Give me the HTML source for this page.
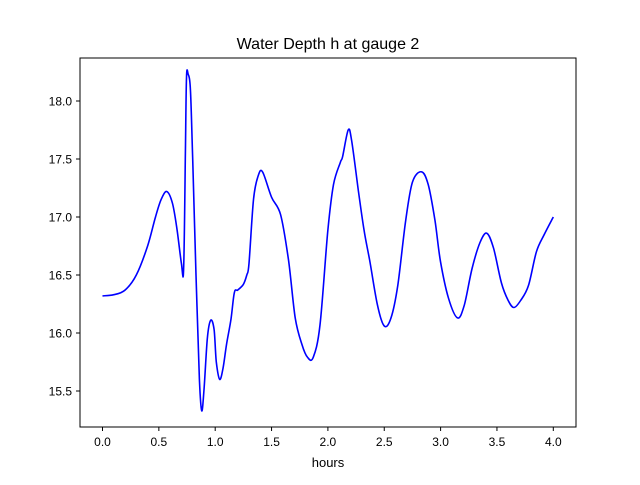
<!DOCTYPE html>
<html><head><meta charset="utf-8"><style>
body{margin:0;background:#fff;font-family:"Liberation Sans",sans-serif;}
</style></head><body>
<svg width="640" height="480" xmlns="http://www.w3.org/2000/svg">
<rect width="640" height="480" fill="#fff"/>
<text x="328" y="49" font-size="16" text-anchor="middle">Water Depth h at gauge 2</text>
<g id="ticks"></g>
<path id="line" fill="none" stroke="#0000ff" stroke-width="1.6" stroke-linejoin="round"/>
<rect x="80" y="58" width="496" height="369" fill="none" stroke="#000" stroke-width="1"/>
<text x="328" y="467" font-size="13" text-anchor="middle">hours</text>
</svg>
<script>
const hours=[0,0.1,0.2,0.3,0.4,0.47,0.52,0.57,0.62,0.66,0.7,0.72,0.735,0.745,0.76,0.78,0.8,0.83,0.86,0.88,0.9,0.93,0.96,0.99,1.01,1.04,1.07,1.1,1.14,1.17,1.2,1.25,1.28,1.30,1.34,1.38,1.42,1.50,1.58,1.65,1.71,1.77,1.82,1.87,1.93,2.0,2.05,2.11,2.13,2.18,2.21,2.27,2.32,2.37,2.44,2.50,2.56,2.62,2.69,2.75,2.83,2.89,2.95,3.0,3.07,3.15,3.21,3.28,3.35,3.41,3.47,3.54,3.6,3.65,3.71,3.78,3.85,3.92,4.0];
const depth=[16.32,16.33,16.37,16.5,16.75,17.0,17.15,17.22,17.12,16.9,16.6,16.55,17.5,18.2,18.23,18.1,17.5,16.5,15.6,15.33,15.5,15.95,16.11,16.03,15.75,15.6,15.7,15.9,16.12,16.35,16.37,16.42,16.5,16.6,17.15,17.35,17.39,17.17,17.02,16.63,16.13,15.9,15.79,15.79,16.07,16.89,17.28,17.47,17.52,17.75,17.66,17.23,16.89,16.63,16.24,16.06,16.13,16.41,16.97,17.3,17.39,17.28,16.97,16.61,16.3,16.13,16.24,16.56,16.78,16.86,16.73,16.43,16.28,16.22,16.28,16.41,16.7,16.85,17.0];
const xTicks=[0,0.5,1,1.5,2,2.5,3,3.5,4];
const xLabels=["0.0","0.5","1.0","1.5","2.0","2.5","3.0","3.5","4.0"];
const yTicks=[15.5,16,16.5,17,17.5,18];
const yLabels=["15.5","16.0","16.5","17.0","17.5","18.0"];
const X=v=>102.5+v*112.7;
const Y=v=>101+(18-v)*116;
const ns="http://www.w3.org/2000/svg";
const g=document.getElementById('ticks');
xTicks.forEach((t,i)=>{
  const l=document.createElementNS(ns,'line');
  l.setAttribute('x1',X(t));l.setAttribute('x2',X(t));l.setAttribute('y1',427);l.setAttribute('y2',431);l.setAttribute('stroke','#000');
  
  
  g.appendChild(l);
  const tx=document.createElementNS(ns,'text');
  tx.setAttribute('x',X(t));tx.setAttribute('y',446);tx.setAttribute('font-size','12');tx.setAttribute('text-anchor','middle');
  tx.textContent=xLabels[i];
  
  
  g.appendChild(tx);
});
yTicks.forEach((t,i)=>{
  const l=document.createElementNS(ns,'line');
  l.setAttribute('x1',76);l.setAttribute('x2',80);l.setAttribute('y1',Y(t));l.setAttribute('y2',Y(t));l.setAttribute('stroke','#000');
  
  
  g.appendChild(l);
  const tx=document.createElementNS(ns,'text');
  tx.setAttribute('x',72);tx.setAttribute('y',Y(t)+4.5);tx.setAttribute('font-size','12');tx.setAttribute('text-anchor','end');
  tx.textContent=yLabels[i];
  
  
  g.appendChild(tx);
});
const P=hours.map((h,i)=>[X(h),Y(depth[i])]);
let d='M'+P[0][0].toFixed(1)+','+P[0][1].toFixed(1);
for(let i=0;i<P.length-1;i++){
  const p0=P[Math.max(0,i-1)],p1=P[i],p2=P[i+1],p3=P[Math.min(P.length-1,i+2)];
  const c1=[p1[0]+(p2[0]-p0[0])/6,p1[1]+(p2[1]-p0[1])/6];
  const c2=[p2[0]-(p3[0]-p1[0])/6,p2[1]-(p3[1]-p1[1])/6];
  d+='C'+c1.map(v=>v.toFixed(1)).join(',')+' '+c2.map(v=>v.toFixed(1)).join(',')+' '+p2[0].toFixed(1)+','+p2[1].toFixed(1);
}
document.getElementById('line').setAttribute('d',d);
</script>
</body></html>
